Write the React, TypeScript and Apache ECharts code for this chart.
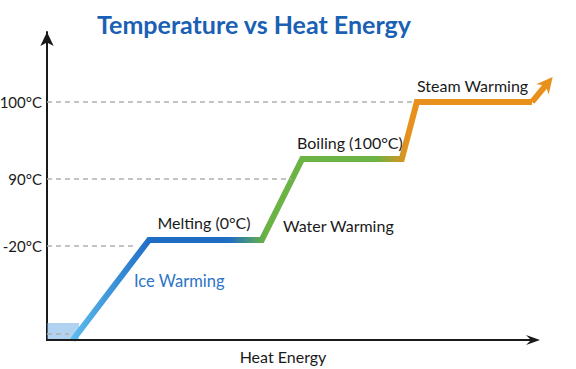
import React, { useEffect, useRef } from "react";
import * as echarts from "echarts";

// Schematic heating curve: x = heat energy (arbitrary units), y = display level (arbitrary units)
const heatEnergy = [5.3, 21, 44.2, 52.5, 73, 76.1, 99.8, 103];
const levels = [0, 32.5, 32.5, 58.8, 58.8, 77.3, 77.3, 83.4];

const tickLabels = ["-20°C", "90°C", "100°C"];
const tickLevels = [30.5, 52.3, 77.4];
// x where each dashed guide meets the curve
const guideEnds = [18.5, 50.3, 76];
// where the drawn heat-energy axis line ends
const xAxisEnd = 100;

const phaseNames = ["Ice Warming", "Melting (0°C)", "Water Warming", "Boiling (100°C)", "Steam Warming"];
const axisTitle = "Heat Energy";

const FONT = "Lato, 'Open Sans', sans-serif";
const ORANGE = "#e8901c";
const INK = "#1a1a1a";

function arrowHead(a: number[], b: number[], L: number, W: number, N: number) {
  const dx = b[0] - a[0];
  const dy = b[1] - a[1];
  const len = Math.hypot(dx, dy) || 1;
  const ux = dx / len, uy = dy / len;
  const px = -uy, py = ux;
  const tip = [b[0] + ux * L, b[1] + uy * L];
  const base = [b[0] - ux * L, b[1] - uy * L];
  const notch = [b[0] - ux * N, b[1] - uy * N];
  return [tip, [base[0] + px * W, base[1] + py * W], notch, [base[0] - px * W, base[1] - py * W]];
}

export default function App() {
  const ref = useRef<HTMLDivElement>(null);
  useEffect(() => {
    document.body.style.margin = "0";
    const chart = echarts.init(ref.current!, null, { renderer: "svg" });
    const data = heatEnergy.map((x, i) => [x, levels[i]]);
    const n = data.length;
    const guideLines: any[] = tickLevels.map((y, i) => [
      { coord: [0, y] },
      { coord: [guideEnds[i], y] },
    ]);
    guideLines.push([{ coord: [0, 2] }, { coord: [4.5, 2] }]);

    chart.setOption({
      animation: false,
      grid: { left: 47, right: 18.7, top: 32, bottom: 29, outerBoundsMode: "none", containLabel: false },
      textStyle: { fontFamily: FONT },
      xAxis: {
        type: "value",
        min: 0,
        max: 105,
        axisLine: { show: false },
        axisTick: { show: false },
        axisLabel: { show: false },
        splitLine: { show: false },
      },
      yAxis: {
        type: "value",
        min: 0,
        max: 100,
        axisLine: { show: true, lineStyle: { color: INK, width: 2 }, symbol: ["none", "arrow"], symbolSize: [10, 14] },
        axisTick: { show: false },
        axisLabel: {
          show: true,
          customValues: tickLevels,
          formatter: (v: number) => {
            const i = tickLevels.findIndex((t) => Math.abs(t - v) < 0.01);
            return i >= 0 ? tickLabels[i] : "";
          },
          fontSize: 15,
          color: INK,
          margin: 5,
          fontFamily: FONT,
        },
        splitLine: { show: false },
      },
      series: [
        {
          type: "line",
          data: data.slice(0, n - 1),
          clip: false,
          showSymbol: false,
          symbol: "none",
          lineStyle: {
            width: 6,
            cap: "butt",
            join: "miter",
            color: new echarts.graphic.LinearGradient(0, 0, 1, 0, [
              { offset: 0, color: "#5bbcee" },
              { offset: 0.17, color: "#1f6dc5" },
              { offset: 0.34, color: "#1f6dc5" },
              { offset: 0.42, color: "#6ab344" },
              { offset: 0.66, color: "#6ab344" },
              { offset: 0.73, color: ORANGE },
              { offset: 1, color: ORANGE },
            ]),
          },
          markArea: {
            silent: true,
            itemStyle: { color: "rgba(100,165,225,0.5)" },
            data: [[{ coord: [0, 0] }, { coord: [6.6, 5.5] }]],
          },
          markLine: {
            silent: true,
            symbol: "none",
            label: { show: false },
            lineStyle: { type: [5, 4], color: "#b0b0b0", width: 1.5 },
            data: guideLines,
          },
          z: 3,
        },
        {
          type: "line",
          clip: false,
          data: data.slice(n - 2),
          showSymbol: false,
          symbol: "none",
          lineStyle: { width: 6, color: ORANGE, cap: "butt" },
          z: 4,
        },
      ],
      graphic: [
        {
          type: "text",
          x: 254,
          y: 24,
          style: {
            text: "Temperature vs Heat Energy",
            fontSize: 25,
            fontWeight: "bold",
            fill: "#1a60b4",
            fontFamily: FONT,
            textAlign: "center",
            textVerticalAlign: "middle",
          },
        },
        { type: "text", x: 134, y: 281, style: { text: phaseNames[0], fontSize: 16.5, fill: "#2b74c6", fontFamily: FONT, textVerticalAlign: "middle" } },
        { type: "text", x: 204, y: 222, style: { text: phaseNames[1], fontSize: 16, fill: INK, fontFamily: FONT, textAlign: "center", textVerticalAlign: "middle" } },
        { type: "text", x: 283, y: 225, style: { text: phaseNames[2], fontSize: 16, fill: INK, fontFamily: FONT, textVerticalAlign: "middle" } },
        { type: "text", x: 297, y: 142, style: { text: phaseNames[3], fontSize: 16, fill: INK, fontFamily: FONT, textVerticalAlign: "middle" } },
        { type: "text", x: 417, y: 85, style: { text: phaseNames[4], fontSize: 16, fill: INK, fontFamily: FONT, textVerticalAlign: "middle" } },
        { type: "text", x: 283, y: 356, style: { text: axisTitle, fontSize: 16, fill: INK, fontFamily: FONT, textAlign: "center", textVerticalAlign: "middle" } },
      ],
    });

    // heat-energy axis line with arrow, and the curve's arrow head, placed through the scales
    const o = chart.convertToPixel({ gridIndex: 0 }, [0, 0]) as number[];
    const e = chart.convertToPixel({ gridIndex: 0 }, [xAxisEnd, 0]) as number[];
    const a = chart.convertToPixel({ gridIndex: 0 }, data[n - 2]) as number[];
    const b = chart.convertToPixel({ gridIndex: 0 }, data[n - 1]) as number[];
    chart.setOption({
      graphic: [
        {
          id: "xaxisline",
          type: "line",
          z: 9,
          shape: { x1: o[0] - 1, y1: o[1], x2: e[0], y2: e[1] },
          style: { stroke: INK, lineWidth: 2 },
        },
        {
          id: "xaxisarrow",
          type: "polygon",
          z: 9,
          shape: { points: arrowHead(o, e, 7, 5, 2) },
          style: { fill: INK },
        },
        {
          id: "arrowhead",
          type: "polygon",
          z: 10,
          shape: { points: arrowHead(a, b, 8, 8, 3) },
          style: { fill: ORANGE },
        },
      ],
    });

    return () => chart.dispose();
  }, []);
  return <div ref={ref} style={{ width: 576, height: 369 }} />;
}
